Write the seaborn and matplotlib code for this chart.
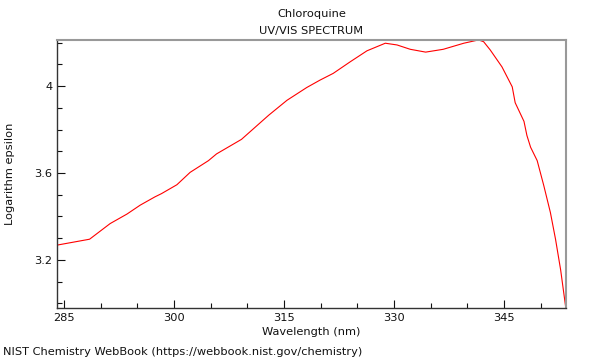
import numpy as np
import pandas as pd
import matplotlib
matplotlib.use('Agg')
import matplotlib.pyplot as plt
from matplotlib.ticker import MultipleLocator, FormatStrFormatter
import seaborn as sns

wavelength = [284.1, 288.5, 291.3, 293.6, 295.4, 297.4, 298.3, 300.4, 302.2, 304.7,
              305.8, 309.2, 311.1, 312.9, 315.4, 318.1, 319.9, 321.7, 324.0, 326.3,
              328.8, 330.4, 332.2, 334.3, 336.7, 339.5, 341.5, 342.2, 343.1, 344.7,
              346.1, 346.5, 347.7, 348.1, 348.6, 349.5, 350.4, 351.3, 352.0, 352.7,
              353.4]
log_eps = [3.268, 3.295, 3.367, 3.411, 3.452, 3.490, 3.505, 3.546, 3.603, 3.657,
           3.688, 3.755, 3.812, 3.866, 3.935, 3.994, 4.028, 4.059, 4.112, 4.163,
           4.198, 4.190, 4.170, 4.157, 4.170, 4.198, 4.213, 4.205, 4.167, 4.089,
           3.997, 3.924, 3.838, 3.773, 3.719, 3.657, 3.542, 3.418, 3.295, 3.153,
           2.978]

df = pd.DataFrame({'wavelength': wavelength, 'log_eps': log_eps})

sns.set_style('white')
plt.rcParams['font.family'] = ['DejaVu Sans']
plt.rcParams['text.color'] = '#111111'
plt.rcParams['axes.labelcolor'] = '#111111'

fig = plt.figure(figsize=(6, 3.6), dpi=100)
ax = fig.add_axes([0.0955, 0.1444, 0.8475, 0.7446])

sns.lineplot(data=df, x='wavelength', y='log_eps', color='red', linewidth=0.8,
             ax=ax, sort=False)

ax.set_xlim(df['wavelength'].min(), df['wavelength'].max())
ax.set_ylim(df['log_eps'].min(), df['log_eps'].max())

ax.xaxis.set_major_locator(MultipleLocator(15))
ax.xaxis.set_minor_locator(MultipleLocator(5))
ax.yaxis.set_major_locator(MultipleLocator(0.4))
ax.yaxis.set_minor_locator(MultipleLocator(0.1))
ax.yaxis.set_major_formatter(FormatStrFormatter('%g'))

fs = 8.2
ax.tick_params(which='both', direction='in', bottom=True, left=True,
               top=False, right=False, labelsize=fs, colors='#111111')
ax.tick_params(which='major', length=6, width=0.8)
ax.tick_params(which='minor', length=3.5, width=0.8)

for side in ['left', 'bottom']:
    ax.spines[side].set_color('#333333')
    ax.spines[side].set_linewidth(1.0)
for side in ['top', 'right']:
    ax.spines[side].set_color('#999999')
    ax.spines[side].set_linewidth(1.5)

ax.set_xlabel('Wavelength (nm)', fontsize=fs, labelpad=3)
ax.set_ylabel('Logarithm epsilon', fontsize=fs, labelpad=14)
ax.set_title('Chloroquine\nUV/VIS SPECTRUM', fontsize=fs, pad=4.5, linespacing=1.85,
             color='#111111')

fig.text(0.005, 0.022, 'NIST Chemistry WebBook (https://webbook.nist.gov/chemistry)',
         fontsize=fs, va='center', ha='left')

fig.savefig('out.png', dpi=100)
